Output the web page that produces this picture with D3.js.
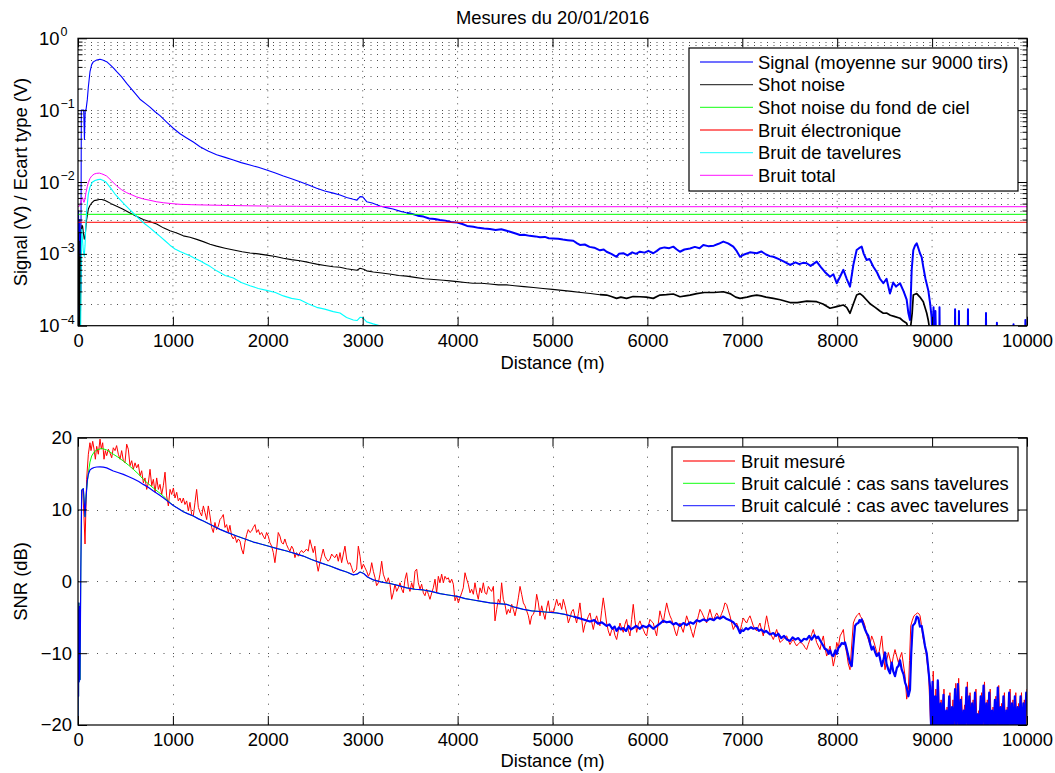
<!DOCTYPE html>
<html><head><meta charset="utf-8">
<script src="https://cdn.jsdelivr.net/npm/d3@7"></script>
<style>
body{margin:0;background:#fff}
svg{display:block}
text{font-family:"Liberation Sans",Arial,Helvetica,sans-serif;fill:#000}
</style>
</head><body>
<svg id="c" width="1055" height="773"></svg>
<script>
// ---------------- DATA ----------------
const title = "Mesures du 20/01/2016";
const xLabel = "Distance (m)";
const yLabelTop = "Signal (V) / Ecart type (V)";
const yLabelBottom = "SNR (dB)";
const xTicks = [0,1000,2000,3000,4000,5000,6000,7000,8000,9000,10000];
const yTopDecades = [-4,-3,-2,-1,0];
const yTopMinorMult = [2,3,4,5,6,7,8,9];
const yBottomTicks = [-20,-10,0,10,20];

const legendTop = ["Signal (moyenne sur 9000 tirs)","Shot noise","Shot noise du fond de ciel","Bruit électronique","Bruit de tavelures","Bruit total"];
const legendBottom = ["Bruit mesuré","Bruit calculé : cas sans tavelures","Bruit calculé : cas avec tavelures"];

// Top panel : [distance (m), volts]
const signalV = [[0,0.0002],[3,0.00003],[6,0.004],[9,0.00005],[12,0.0015],[15,0.00003],[18,0.003],[22,0.0001],[26,0.002],[30,0.0003],[35,0.1],[49,0.1],[60,0.1],[68,0.039],[76,0.1],[84,0.1],[98,0.14],[109,0.21],[126,0.34],[144,0.43],[161,0.47],[197,0.5],[232,0.51],[260,0.5],[302,0.473],[337,0.43],[370,0.39],[408,0.343],[460,0.29],[513,0.236],[580,0.185],[653,0.142],[706,0.125],[759,0.11],[812,0.095],[864,0.084],[934,0.068],[1004,0.056],[1075,0.047],[1145,0.041],[1215,0.036],[1286,0.031],[1370,0.027],[1461,0.024],[1550,0.022],[1637,0.0202],[1720,0.0186],[1812,0.0172],[1900,0.016],[1988,0.0147],[2080,0.0133],[2164,0.0121],[2250,0.0111],[2339,0.0101],[2430,0.0091],[2515,0.0082],[2600,0.0075],[2690,0.007],[2761,0.0066],[2830,0.0061],[2901,0.00574],[2940,0.0056],[2972,0.00625],[3000,0.0062],[3042,0.00532],[3100,0.0051],[3182,0.00463],[3250,0.0044],[3320,0.0042],[3400,0.0039],[3463,0.00374],[3520,0.0036],[3580,0.0034],[3640,0.0033],[3700,0.0031],[3760,0.00305],[3814,0.00296],[3870,0.0029],[3930,0.00278],[3997,0.00272],[4050,0.0026],[4100,0.00245],[4166,0.00239],[4220,0.0023],[4280,0.00225],[4340,0.00222],[4400,0.00215],[4460,0.0022],[4517,0.0021],[4570,0.002],[4620,0.0019],[4657,0.00183],[4700,0.00185],[4760,0.00178],[4820,0.00175],[4868,0.0017],[4920,0.00172],[4960,0.00165],[5008,0.00164],[5060,0.00162],[5110,0.00158],[5160,0.00155],[5219,0.00152],[5260,0.0014],[5289,0.00133],[5340,0.00135],[5390,0.00125],[5440,0.00122],[5500,0.00112],[5540,0.00115],[5570,0.00107],[5620,0.001],[5675,0.00091],[5700,0.001],[5746,0.00102],[5790,0.00095],[5840,0.00105],[5880,0.001],[5921,0.00107],[5970,0.00104],[6010,0.0011],[6062,0.00102],[6100,0.0011],[6132,0.00119],[6180,0.00123],[6230,0.0012],[6273,0.00126],[6310,0.00115],[6343,0.00107],[6390,0.00115],[6449,0.00119],[6500,0.00125],[6550,0.0012],[6589,0.00133],[6640,0.00128],[6700,0.0013],[6750,0.00138],[6800,0.00148],[6850,0.0014],[6905,0.00126],[6940,0.0011],[6976,0.00091],[7020,0.00098],[7080,0.00105],[7152,0.00102],[7200,0.00108],[7250,0.00098],[7290,0.00093],[7327,0.00091],[7380,0.00085],[7440,0.00078],[7503,0.0007],[7560,0.00076],[7600,0.00072],[7640,0.00075],[7678,0.00074],[7720,0.00068],[7784,0.00078],[7830,0.00065],[7870,0.00056],[7924,0.00048],[7960,0.00052],[7995,0.00039],[8030,0.00048],[8065,0.0006],[8100,0.00045],[8135,0.00035],[8170,0.0007],[8205,0.00113],[8230,0.0012],[8258,0.00126],[8280,0.001],[8310,0.00082],[8340,0.00085],[8381,0.00066],[8420,0.00055],[8450,0.00045],[8486,0.00039],[8520,0.00045],[8556,0.00028],[8590,0.0004],[8620,0.00035],[8662,0.00039],[8700,0.0003],[8732,0.00023],[8750,0.00015],[8767,0.00012],[8785,0.0006],[8802,0.00113],[8820,0.0013],[8838,0.0014],[8855,0.0012],[8872,0.00102],[8890,0.0009],[8907,0.00066],[8930,0.00045],[8960,0.00031],[8980,0.0002],[8995,0.00013],[9005,0.00005],[9015,0.00018],[9025,0.00004],[9035,0.00016],[9045,0.00004],[9076,0.00004],[9078,0.00018],[9082,0.00004],[9240,0.00004],[9242,0.00017],[9246,0.00004],[9280,0.00004],[9283,0.00016],[9286,0.00004],[9375,0.00004],[9378,0.00017],[9381,0.00004],[9565,0.00004],[9568,0.00015],[9571,0.00004],[9680,0.00004],[9683,0.00011],[9686,0.00004],[9856,0.00004],[9858,0.000105],[9862,0.00004],[9980,0.00004],[9983,0.00012],[9990,0.00004],[10000,0.00004]];

const shotNoiseV = [[0,0.0002],[4,0.002],[8,0.0001],[12,0.0015],[16,0.00005],[20,0.0009],[25,0.0001],[30,0.0006],[35,0.0021],[42,0.0025],[49,0.0024],[56,0.002],[66,0.0016],[74,0.0017],[84,0.0024],[91,0.003],[109,0.0042],[126,0.0047],[144,0.0051],[170,0.0055],[197,0.0056],[225,0.0057],[250,0.0057],[275,0.0056],[302,0.0054],[350,0.005],[408,0.0046],[470,0.0042],[548,0.0037],[620,0.0033],[688,0.003],[760,0.0028],[829,0.0026],[900,0.0023],[969,0.0021],[1040,0.00195],[1110,0.00178],[1180,0.0017],[1251,0.00159],[1320,0.00148],[1391,0.00136],[1460,0.00128],[1550,0.0012],[1640,0.00113],[1730,0.00107],[1812,0.00103],[1900,0.001],[1988,0.00096],[2080,0.00092],[2164,0.00087],[2250,0.00083],[2339,0.0008],[2430,0.00076],[2515,0.00072],[2600,0.00069],[2690,0.00066],[2761,0.00065],[2830,0.00062],[2901,0.0006],[2940,0.00059],[2972,0.00063],[3010,0.00061],[3042,0.00058],[3112,0.00056],[3200,0.00054],[3300,0.00052],[3380,0.0005],[3463,0.00049],[3550,0.00047],[3650,0.00045],[3750,0.00044],[3850,0.00043],[3920,0.00042],[3997,0.00041],[4080,0.0004],[4160,0.00039],[4250,0.00039],[4340,0.00038],[4430,0.00037],[4517,0.00037],[4600,0.00036],[4700,0.00035],[4800,0.00034],[4900,0.00033],[5000,0.00032],[5100,0.00031],[5200,0.0003],[5300,0.00029],[5400,0.00028],[5500,0.00027],[5570,0.000267],[5620,0.000255],[5675,0.00024],[5720,0.00025],[5780,0.00024],[5850,0.000255],[5921,0.000253],[5990,0.00025],[6062,0.00024],[6132,0.000267],[6200,0.00027],[6273,0.000276],[6343,0.000253],[6400,0.00026],[6449,0.000267],[6520,0.00028],[6600,0.00029],[6700,0.00029],[6800,0.000297],[6870,0.00028],[6930,0.00025],[6976,0.00024],[7050,0.00025],[7100,0.00026],[7152,0.000267],[7200,0.00026],[7250,0.00025],[7327,0.00024],[7400,0.00023],[7503,0.00021],[7580,0.00021],[7680,0.00022],[7784,0.000216],[7850,0.0002],[7924,0.000175],[7995,0.000184],[8065,0.000194],[8100,0.00018],[8135,0.000149],[8170,0.0002],[8205,0.000267],[8240,0.00028],[8270,0.00026],[8310,0.000228],[8350,0.0002],[8400,0.00018],[8450,0.00016],[8486,0.000149],[8520,0.00015],[8560,0.00014],[8600,0.000135],[8662,0.000127],[8700,0.000115],[8732,0.000108],[8750,0.00009],[8767,0.00008],[8790,0.00015],[8802,0.000267],[8838,0.00028],[8872,0.00025],[8907,0.000216],[8943,0.00015],[8960,0.000118],[8980,0.00008],[9000,0.00003]];

const skyNoiseV = [[0,0.00355],[10000,0.00355]];
const elecNoiseV = [[0,0.00275],[10000,0.00275]];

const speckleV = [[0,0.00002],[25,0.00003],[33,0.0006],[39,0.0022],[47,0.0016],[56,0.0011],[66,0.00093],[74,0.0013],[84,0.0028],[91,0.0040],[109,0.0068],[126,0.0085],[150,0.0099],[179,0.0105],[210,0.0108],[235,0.0109],[260,0.0106],[290,0.0101],[337,0.0085],[390,0.0068],[443,0.0057],[495,0.0048],[548,0.0041],[600,0.0035],[653,0.003],[706,0.0026],[759,0.0023],[812,0.002],[864,0.00175],[917,0.00152],[969,0.00132],[1022,0.00117],[1075,0.00108],[1130,0.001],[1180,0.00094],[1233,0.00086],[1286,0.0008],[1340,0.00073],[1391,0.00067],[1461,0.00058],[1550,0.0005],[1637,0.00046],[1720,0.0004],[1812,0.00036],[1900,0.00033],[1988,0.00031],[2080,0.00029],[2164,0.00026],[2250,0.00024],[2339,0.00023],[2430,0.0002],[2515,0.00018],[2600,0.00017],[2690,0.000157],[2761,0.00015],[2830,0.00013],[2901,0.00012],[2940,0.000118],[2972,0.000131],[3000,0.00013],[3042,0.000113],[3110,0.000106],[3182,0.0001],[3250,0.00009]];

const totalNoiseV = [[0,0.0045],[20,0.0047],[35,0.0055],[42,0.0061],[49,0.006],[56,0.0055],[63,0.0052],[74,0.0058],[84,0.0071],[98,0.0087],[109,0.0098],[126,0.0112],[144,0.0121],[170,0.0129],[197,0.0132],[225,0.0133],[250,0.013],[275,0.0126],[302,0.0121],[350,0.0105],[408,0.0088],[460,0.0078],[513,0.0071],[570,0.0066],[618,0.0062],[690,0.0058],[759,0.00556],[830,0.0053],[899,0.00515],[990,0.005],[1075,0.00489],[1200,0.00483],[1391,0.00477],[1600,0.00471],[1800,0.00466],[2000,0.00462],[2300,0.00459],[2600,0.00457],[3000,0.00455],[3500,0.00454],[4500,0.00453],[6000,0.00453],[8000,0.00453],[10000,0.00453]];

// Bottom panel : [distance (m), SNR dB]
const snrMeasured = [[50,12.8],[63,9],[74,5.2],[91,14.2],[109,17.7],[126,19.3],[137,18.2],[155,19.5],[169,18.4],[183,17.0],[197,18.8],[214,17.7],[232,19.8],[246,18.4],[260,19.3],[274,17.0],[288,18.2],[302,17.5],[320,18.4],[337,17.9],[355,17.2],[372,18.6],[390,18.2],[407,18.9],[425,17.7],[443,17.0],[460,18.2],[478,16.8],[495,16.5],[513,19.1],[530,18.4],[548,16.1],[566,16.8],[583,15.6],[601,16.5],[618,15.8],[636,16.3],[654,14.7],[671,15.4],[689,13.7],[706,14.4],[724,12.8],[741,13.7],[759,15.6],[777,13.3],[794,14.2],[812,12.4],[829,14.4],[847,12.8],[864,13.5],[882,12.1],[899,13.3],[917,15.2],[934,11.9],[952,10.5],[970,12.8],[987,12.1],[1005,13.0],[1022,11.6],[1040,12.4],[1057,11.2],[1075,11.6],[1092,10.9],[1110,11.6],[1127,10.7],[1145,11.2],[1163,9.8],[1180,11.0],[1198,9.3],[1215,9.1],[1233,11.0],[1250,12.8],[1268,10.3],[1286,9.6],[1303,9.1],[1321,10.5],[1338,9.6],[1356,8.6],[1373,10.5],[1391,9.1],[1408,7.5],[1426,6.8],[1443,8.2],[1461,7.2],[1479,7.7],[1496,8.6],[1514,8.9],[1531,9.3],[1549,7.5],[1566,7.9],[1584,6.8],[1601,7.8],[1619,6.3],[1636,5.9],[1654,6.3],[1672,5.4],[1689,5.9],[1707,5.6],[1724,4.5],[1742,3.8],[1759,5.4],[1777,6.5],[1794,7.2],[1812,6.8],[1829,7.0],[1847,7.5],[1865,7.9],[1882,6.8],[1900,7.2],[1917,6.5],[1935,6.8],[1952,6.3],[1970,5.9],[1987,6.8],[2005,6.3],[2022,5.4],[2040,4.9],[2058,4.0],[2075,2.6],[2093,4.5],[2110,6.8],[2128,6.3],[2145,5.4],[2163,5.2],[2180,5.9],[2198,5.1],[2215,4.6],[2233,4.2],[2251,4.9],[2268,4.5],[2286,3.3],[2303,4.0],[2321,3.5],[2338,4.0],[2356,4.3],[2373,4.0],[2391,4.2],[2408,4.5],[2426,4.2],[2444,5.8],[2461,4.9],[2479,4.0],[2496,4.9],[2514,2.6],[2531,1.4],[2549,2.6],[2566,3.5],[2584,4.5],[2601,3.5],[2619,3.1],[2636,2.8],[2655,3.1],[2673,3.8],[2690,3.5],[2708,3.3],[2726,3.8],[2743,2.8],[2761,4.0],[2778,2.6],[2796,3.8],[2813,4.9],[2831,3.1],[2848,2.4],[2866,2.6],[2884,1.9],[2901,1.2],[2919,1.4],[2936,1.7],[2954,4.9],[2972,3.5],[2989,1.7],[3007,2.4],[3024,1.9],[3042,1.4],[3060,0.7],[3077,1.2],[3095,2.6],[3112,1.4],[3130,0.5],[3147,-0.6],[3165,-0.2],[3182,1.0],[3200,2.8],[3217,1.0],[3235,0.3],[3252,-0.2],[3270,0.5],[3288,-0.4],[3305,-2.5],[3323,-1.6],[3340,-0.4],[3358,-1.4],[3375,-0.9],[3393,-0.2],[3411,-1.1],[3428,-1.6],[3446,0.3],[3463,1.2],[3481,-0.7],[3498,-1.4],[3516,-0.2],[3534,-1.1],[3551,1.4],[3569,1.7],[3586,-0.2],[3604,-1.1],[3621,-0.4],[3639,-1.6],[3656,-2.0],[3674,-1.1],[3692,-1.8],[3709,-2.5],[3727,-1.6],[3744,-0.9],[3762,0.3],[3779,-1.6],[3797,0.7],[3814,-0.2],[3832,1.0],[3850,-0.2],[3867,0.7],[3885,0.3],[3902,0.5],[3920,-0.2],[3938,0.3],[3955,-0.4],[3973,-2.7],[3990,-2.0],[4008,-3.0],[4025,-2.3],[4043,-1.6],[4060,-0.9],[4078,1.2],[4096,0.3],[4113,-0.4],[4131,-1.6],[4148,-1.1],[4166,-1.8],[4183,-0.2],[4201,-1.6],[4218,-2.5],[4236,-0.9],[4253,-1.6],[4271,-0.2],[4289,-1.6],[4306,-1.8],[4324,-0.7],[4341,-1.1],[4359,-1.4],[4377,-0.7],[4394,-5.5],[4412,-3.9],[4429,-2.5],[4447,-3.0],[4464,-0.2],[4482,-2.5],[4499,-3.2],[4517,-4.6],[4534,-3.9],[4552,-4.4],[4570,-3.2],[4587,-3.9],[4605,-4.8],[4622,-3.7],[4640,-2.3],[4658,-0.7],[4675,-1.8],[4693,-3.0],[4710,-3.4],[4728,-4.1],[4746,-4.8],[4763,-6.0],[4781,-4.8],[4798,-4.6],[4816,-3.9],[4833,-1.8],[4851,-3.0],[4868,-4.8],[4886,-3.4],[4903,-4.4],[4921,-5.3],[4939,-3.7],[4956,-2.7],[4974,-4.4],[4991,-4.1],[5009,-4.4],[5027,-3.4],[5044,-2.5],[5062,-3.4],[5079,-3.0],[5097,-3.9],[5114,-2.5],[5132,-3.4],[5149,-4.4],[5167,-5.8],[5184,-5.1],[5202,-4.2],[5219,-3.9],[5237,-4.9],[5254,-5.8],[5272,-4.5],[5289,-3.0],[5307,-5.2],[5325,-7.1],[5342,-6.0],[5360,-5.5],[5377,-4.9],[5395,-4.4],[5412,-5.6],[5430,-6.7],[5448,-5.5],[5465,-4.8],[5483,-5.7],[5500,-6.2],[5518,-4.1],[5535,-2.3],[5553,-4.0],[5570,-5.8],[5588,-6.9],[5606,-7.6],[5623,-6.8],[5641,-6.5],[5658,-7.5],[5676,-8.1],[5693,-6.9],[5711,-5.8],[5728,-6.5],[5746,-7.1],[5763,-6.0],[5781,-5.3],[5799,-6.8],[5816,-7.6],[5834,-5.3],[5851,-3.2],[5869,-5.5],[5887,-7.1],[5904,-6.0],[5922,-5.5],[5939,-6.2],[5957,-6.7],[5975,-7.3],[5992,-7.6],[6010,-6.2],[6027,-5.3],[6045,-5.6],[6062,-5.8],[6080,-6.8],[6097,-7.6],[6115,-5.8],[6132,-4.1],[6150,-5.0],[6167,-5.8],[6185,-4.3],[6203,-3.0],[6220,-4.0],[6238,-4.8],[6255,-5.3],[6273,-6.0],[6290,-6.9],[6308,-7.6],[6326,-6.6],[6343,-5.8],[6361,-6.5],[6378,-7.1],[6396,-5.9],[6413,-4.8],[6431,-5.5],[6449,-6.2],[6466,-7.0],[6484,-7.8],[6501,-6.7],[6519,-5.8],[6537,-4.8],[6554,-3.9],[6572,-4.3],[6589,-4.8],[6607,-5.3],[6624,-5.8],[6642,-4.7],[6659,-3.9],[6677,-4.8],[6694,-5.5],[6712,-4.9],[6730,-4.4],[6747,-4.8],[6765,-5.1],[6782,-4.5],[6800,-3.9],[6817,-3.0],[6835,-3.2],[6852,-4.0],[6870,-4.8],[6888,-5.8],[6905,-6.7],[6923,-6.2],[6940,-5.8],[6958,-6.4],[6975,-7.1],[6993,-6.0],[7011,-5.1],[7028,-5.5],[7046,-5.8],[7064,-5.2],[7081,-4.8],[7099,-5.5],[7116,-6.2],[7134,-6.6],[7151,-6.9],[7169,-6.3],[7186,-5.8],[7204,-6.8],[7221,-7.6],[7239,-6.1],[7256,-4.8],[7274,-6.0],[7292,-7.1],[7309,-7.6],[7327,-8.1],[7345,-7.4],[7362,-6.7],[7380,-7.6],[7397,-8.5],[7415,-8.3],[7432,-8.1],[7450,-7.8],[7467,-7.6],[7485,-8.2],[7502,-8.8],[7520,-8.4],[7537,-8.1],[7555,-8.6],[7573,-9.0],[7590,-8.7],[7608,-8.5],[7625,-8.6],[7643,-8.8],[7660,-9.2],[7678,-9.5],[7695,-8.8],[7713,-8.1],[7730,-7.4],[7748,-6.7],[7766,-7.6],[7783,-8.5],[7801,-9.0],[7819,-9.5],[7836,-8.4],[7854,-7.6],[7871,-9.2],[7889,-10.4],[7906,-9.8],[7924,-9.0],[7942,-10.2],[7959,-11.8],[7977,-10.6],[7995,-8.5],[8012,-9.2],[8030,-7.6],[8047,-7.2],[8065,-6.7],[8082,-8.8],[8100,-10.0],[8117,-11.5],[8135,-12.3],[8152,-9.0],[8170,-5.8],[8188,-5.2],[8205,-4.8],[8220,-4.6],[8233,-4.4],[8245,-4.9],[8258,-5.1],[8275,-5.5],[8293,-6.2],[8310,-7.4],[8328,-8.1],[8345,-8.8],[8363,-7.6],[8381,-8.2],[8399,-9.0],[8416,-9.8],[8434,-10.4],[8452,-9.0],[8469,-7.6],[8486,-10.0],[8504,-12.3],[8521,-11.0],[8539,-9.9],[8556,-10.8],[8574,-11.8],[8591,-10.5],[8609,-9.5],[8627,-10.4],[8645,-11.3],[8662,-10.6],[8680,-9.9],[8697,-11.5],[8715,-13.2],[8732,-16.4],[8750,-15.0],[8762,-11.0],[8775,-6.2],[8792,-5.4],[8809,-4.8],[8827,-4.6],[8845,-4.4],[8860,-4.5],[8873,-4.8],[8887,-6.0],[8901,-7.6],[8918,-8.7],[8936,-9.9],[8950,-11.5],[8964,-13.2],[8985,-20.2],[9000,-20.5],[9012,-12.5],[9025,-21],[9040,-15],[9052,-21],[9068,-14],[9080,-21],[9095,-16.5],[9110,-21],[9125,-15],[9140,-21],[9158,-17.5],[9172,-21],[9188,-15.5],[9200,-21],[9220,-16.5],[9235,-21],[9250,-14.2],[9262,-21],[9280,-13.5],[9295,-21],[9312,-16],[9325,-21],[9342,-17.2],[9355,-21],[9372,-14],[9385,-21],[9400,-15.5],[9415,-21],[9432,-16.5],[9445,-21],[9462,-15],[9475,-21],[9492,-18],[9505,-21],[9522,-15.5],[9535,-21],[9552,-14],[9565,-21],[9582,-16.5],[9595,-21],[9612,-15],[9625,-21],[9642,-17.5],[9655,-21],[9672,-16],[9685,-21],[9702,-14.5],[9715,-21],[9732,-17],[9745,-21],[9762,-15.5],[9775,-21],[9792,-17.5],[9805,-21],[9822,-15],[9835,-21],[9852,-16.5],[9865,-21],[9882,-15.5],[9895,-21],[9912,-17],[9925,-21],[9942,-15.5],[9955,-21],[9972,-16.5],[9985,-21],[10000,-15]];

const snrWithSpeckle = [[0,-20],[3,-4],[6,-16],[9,-3],[12,-14],[16,-3.5],[21,-13.7],[30,2],[39,12.7],[56,12.9],[66,11],[74,9.0],[84,11.5],[98,14.1],[109,14.9],[126,15.5],[144,15.7],[170,15.85],[197,15.92],[232,15.95],[267,15.9],[302,15.8],[372,15.36],[420,15.15],[478,14.9],[530,14.6],[583,14.29],[640,13.9],[688,13.5],[740,13.1],[794,12.58],[850,12.1],[899,11.64],[950,11.1],[1004,10.55],[1060,10.1],[1110,9.7],[1160,9.4],[1215,9.1],[1270,8.7],[1321,8.4],[1410,7.8],[1496,7.24],[1585,6.75],[1672,6.31],[1760,5.9],[1848,5.47],[1925,5.2],[2002,4.92],[2100,4.55],[2199,4.22],[2290,3.85],[2374,3.52],[2460,3.05],[2550,2.6],[2656,2.13],[2720,1.8],[2761,1.6],[2830,1.3],[2901,0.9],[2940,1.0],[2972,1.3],[3010,1.1],[3050,0.6],[3112,0.2],[3200,-0.1],[3288,-0.3],[3380,-0.6],[3463,-0.9],[3550,-1.1],[3639,-1.2],[3720,-1.4],[3814,-1.7],[3900,-1.9],[3997,-2.1],[4080,-2.4],[4166,-2.6],[4250,-2.8],[4342,-3.0],[4430,-3.1],[4517,-3.2],[4600,-3.6],[4693,-3.9],[4780,-4.1],[4868,-4.2],[4950,-4.3],[5040,-4.4],[5130,-4.6],[5219,-4.9],[5300,-5.2],[5395,-5.6],[5440,-5.4],[5480,-5.9],[5520,-5.7],[5570,-6.2],[5600,-6.0],[5630,-6.6],[5655,-6.3],[5675,-6.9],[5700,-6.4],[5720,-6.7],[5746,-6.5],[5775,-6.9],[5800,-6.2],[5825,-6.7],[5850,-6.5],[5880,-6.2],[5921,-6.6],[5950,-6.2],[5990,-6.4],[6020,-6.1],[6062,-6.6],[6100,-6.2],[6132,-5.9],[6165,-5.5],[6203,-5.7],[6240,-5.6],[6273,-6.0],[6300,-5.8],[6343,-6.2],[6380,-5.8],[6413,-6.1],[6450,-5.7],[6484,-5.9],[6520,-5.4],[6550,-5.6],[6590,-5.3],[6625,-5.5],[6660,-5.2],[6700,-5.4],[6735,-5.0],[6765,-5.2],[6800,-4.9],[6830,-5.2],[6850,-5.3],[6880,-5.5],[6905,-5.7],[6930,-6.1],[6950,-6.4],[6976,-7.2],[6995,-6.8],[7011,-6.9],[7040,-6.5],[7060,-6.7],[7090,-6.4],[7116,-6.6],[7152,-6.5],[7175,-6.9],[7200,-6.7],[7230,-7.1],[7250,-6.9],[7292,-7.4],[7327,-7.2],[7355,-7.6],[7380,-7.3],[7410,-7.9],[7440,-7.6],[7470,-8.1],[7503,-8.3],[7530,-7.8],[7560,-8.1],[7590,-7.9],[7620,-8.4],[7650,-8.0],[7678,-8.1],[7705,-7.6],[7730,-8.1],[7760,-7.5],[7784,-7.9],[7800,-7.7],[7819,-8.2],[7850,-8.9],[7870,-9.4],[7889,-9.5],[7910,-10.1],[7924,-9.6],[7945,-10.3],[7959,-10.4],[7980,-9.6],[7995,-10.1],[8012,-9.3],[8030,-9.0],[8048,-8.6],[8065,-8.7],[8082,-8.5],[8100,-9.4],[8117,-10.4],[8135,-11.4],[8153,-11.8],[8170,-9.0],[8188,-6.2],[8205,-5.9],[8223,-5.8],[8235,-5.4],[8247,-5.6],[8258,-5.3],[8275,-6.0],[8293,-6.7],[8310,-7.2],[8328,-7.6],[8345,-8.6],[8363,-9.5],[8381,-9.1],[8398,-9.8],[8416,-10.4],[8440,-10.0],[8455,-11.0],[8469,-11.8],[8486,-11.0],[8504,-9.9],[8520,-11.5],[8539,-12.3],[8556,-12.8],[8574,-11.3],[8590,-12.5],[8609,-13.2],[8630,-12.0],[8645,-11.8],[8662,-11.0],[8680,-12.3],[8700,-13.0],[8715,-14.1],[8732,-14.7],[8750,-16.0],[8767,-15.1],[8780,-10],[8795,-6.2],[8820,-5.8],[8838,-4.9],[8855,-5.1],[8872,-6.3],[8890,-6.2],[8907,-7.5],[8925,-9.0],[8943,-10.0],[8961,-12.3],[8978,-14.7],[8990,-20.5],[9005,-14],[9018,-21],[9032,-16],[9046,-21],[9060,-13.8],[9074,-21],[9090,-17],[9104,-21],[9120,-15.8],[9134,-21],[9150,-18],[9164,-21],[9180,-16],[9194,-21],[9210,-17.5],[9224,-21],[9242,-15],[9256,-21],[9272,-14.3],[9286,-21],[9302,-16.5],[9316,-21],[9332,-18],[9346,-21],[9362,-14.8],[9376,-21],[9392,-16],[9406,-21],[9422,-17],[9436,-21],[9452,-15.5],[9466,-21],[9482,-18.5],[9496,-21],[9512,-16],[9526,-21],[9542,-14.5],[9556,-21],[9572,-17],[9586,-21],[9602,-15.5],[9616,-21],[9632,-18],[9646,-21],[9662,-16.5],[9676,-21],[9692,-14.8],[9706,-21],[9722,-17.5],[9736,-21],[9752,-16],[9766,-21],[9782,-18],[9796,-21],[9812,-15.5],[9826,-21],[9842,-17],[9856,-21],[9872,-16],[9886,-21],[9902,-17.5],[9916,-21],[9932,-16],[9946,-21],[9962,-17],[9976,-21],[9992,-15.5],[10000,-17]];

// "sans tavelures" differs only near the start; elsewhere it coincides with the curve above
const snrNoSpeckleStart = [[0,-20],[3,-4],[6,-16],[9,-3],[12,-14],[16,-3.5],[21,-13.7],[30,2],[39,12.7],[56,12.95],[66,11],[74,9.0],[84,11.8],[91,12.8],[109,15.1],[126,16.6],[144,17.45],[170,18.0],[197,18.3],[250,18.5],[302,18.3],[372,17.7],[420,17.3],[478,16.75],[530,16.2],[583,15.6],[640,14.9],[688,14.2],[740,13.6],[794,13.0],[850,12.4],[899,11.9],[950,11.2],[1004,10.55],[1060,10.1],[1110,9.7],[1160,9.4],[1215,9.1]];
const snrNoSpeckle = snrNoSpeckleStart.concat(snrWithSpeckle.filter(p => p[0] > 1215));

// ---------------- DRAW ----------------
const svg = d3.select('#c');
const FS = 18.4;
const P1 = {l:78, r:1027, t:38.3, b:325.7};
const P2 = {l:78, r:1027, t:437.7, b:725};
const xT = d3.scaleLinear().domain([0,10000]).range([P1.l,P1.r]);
const xB = d3.scaleLinear().domain([0,10000]).range([P2.l,P2.r]);
const yT = d3.scaleLog().domain([1e-4,1]).range([P1.b,P1.t]);
const yB = d3.scaleLinear().domain([-20,20]).range([P2.b,P2.t]);

svg.append('rect').attr('width',1055).attr('height',773).attr('fill','#fff');

const defs = svg.append('defs');
function clip(id,P){
  defs.append('clipPath').attr('id',id).append('rect')
    .attr('x',P.l).attr('y',P.t).attr('width',P.r-P.l).attr('height',P.b-P.t);
}
clip('c1',P1); clip('c2',P2);

const gridStyle = dash => g => g.attr('stroke','#222').attr('stroke-opacity',0.8).attr('stroke-width',1).attr('stroke-dasharray',dash).attr('fill','none');

// --- top grid
const majT = yTopDecades.map(e => Math.pow(10,e));
const minT = [];
yTopDecades.slice(0,-1).forEach(e => yTopMinorMult.forEach(m => minT.push(m*Math.pow(10,e))));
const g1 = svg.append('g').call(gridStyle('1,5.5'));
xTicks.filter(v => v>0 && v<10000).forEach(v => g1.append('line').attr('x1',xT(v)).attr('x2',xT(v)).attr('y1',P1.t).attr('y2',P1.b));
majT.concat(minT).filter(v => v>1e-4 && v<1).forEach(v => g1.append('line').attr('x1',P1.l).attr('x2',P1.r).attr('y1',Math.round(yT(v))+0.5).attr('y2',Math.round(yT(v))+0.5));

// --- bottom grid
const g2 = svg.append('g').call(gridStyle('1,8.5'));
xTicks.filter(v => v>0 && v<10000).forEach(v => g2.append('line').attr('x1',Math.round(xB(v))+0.5).attr('x2',Math.round(xB(v))+0.5).attr('y1',P2.t).attr('y2',P2.b));
yBottomTicks.filter(v => v>-20 && v<20).forEach(v => g2.append('line').attr('x1',P2.l).attr('x2',P2.r).attr('y1',Math.round(yB(v))+0.5).attr('y2',Math.round(yB(v))+0.5));

// --- series
function draw(data,x,y,color,clipId,w){
  svg.append('path').datum(data)
    .attr('clip-path',`url(#${clipId})`)
    .attr('fill','none').attr('stroke',color).attr('stroke-width',w||1)
    .attr('stroke-linejoin','round')
    .attr('d',d3.line().x(d=>x(d[0])).y(d=>y(d[1])));
}
// draws a series thin where it is smooth and thicker where the measured trace is noisy
function drawSplit(data,x,y,color,clipId,wThin,wNoisy,from){
  draw(data.filter(p=>p[0]<=from),x,y,color,clipId,wThin);
  draw(data.filter(p=>p[0]>=from),x,y,color,clipId,wNoisy);
}
const colTop = ['#0000ff','#000000','#00ff00','#ff0000','#00ffff','#ff00ff'];
drawSplit(signalV,xT,yT,colTop[0],'c1',1.1,2.0,3463);
drawSplit(shotNoiseV,xT,yT,colTop[1],'c1',1.1,1.7,5500);
draw(skyNoiseV,xT,yT,colTop[2],'c1',1);
draw(elecNoiseV,xT,yT,colTop[3],'c1',1);
draw(speckleV,xT,yT,colTop[4],'c1',1.1);
draw(totalNoiseV,xT,yT,colTop[5],'c1',1);

const colBot = ['#ff0000','#00ff00','#0000ff'];
draw(snrMeasured,xB,yB,colBot[0],'c2',1);
draw(snrNoSpeckle,xB,yB,colBot[1],'c2',1);
drawSplit(snrWithSpeckle,xB,yB,colBot[2],'c2',1.2,2.2,5219);

// --- axes
function styleAxis(g){ g.select('.domain').remove(); g.selectAll('text').attr('font-size',FS).attr('font-family','"Liberation Sans",Arial,sans-serif').attr('fill','#000'); g.selectAll('line').attr('stroke','#000'); }
function xAxes(P,x){
  svg.append('g').attr('transform',`translate(0,${P.b})`)
    .call(d3.axisBottom(x).tickValues(xTicks).tickSizeInner(-9).tickSizeOuter(0).tickPadding(8).tickFormat(d3.format('d'))).call(styleAxis);
  svg.append('g').attr('transform',`translate(0,${P.t})`)
    .call(d3.axisTop(x).tickValues(xTicks).tickSizeInner(-9).tickSizeOuter(0).tickFormat('')).call(styleAxis);
}
xAxes(P1,xT); xAxes(P2,xB);

// top y (log)
[[P1.l,'L'],[P1.r,'R']].forEach(([px,side]) => {
  const mk = side==='L'? d3.axisLeft : d3.axisRight;
  svg.append('g').attr('transform',`translate(${px},0)`).call(mk(yT).tickValues(majT).tickSizeInner(-9).tickSizeOuter(0).tickFormat('')).call(styleAxis);
  svg.append('g').attr('transform',`translate(${px},0)`).call(mk(yT).tickValues(minT).tickSizeInner(-4.5).tickSizeOuter(0).tickFormat('')).call(styleAxis);
});
const lab = svg.append('g');
yTopDecades.forEach(e => {
  const yy = yT(Math.pow(10,e));
  lab.append('text').attr('x',59.5).attr('y',yy+6.5).attr('text-anchor','end').attr('font-size',FS).text('10');
  lab.append('text').attr('x',60.5).attr('y',yy-2).attr('font-size',12.5).text(e===0?'0':'\u2212'+(-e));
});

// bottom y
svg.append('g').attr('transform',`translate(${P2.l},0)`)
  .call(d3.axisLeft(yB).tickValues(yBottomTicks).tickSizeInner(-9).tickSizeOuter(0).tickPadding(6)).call(styleAxis);
svg.append('g').attr('transform',`translate(${P2.r},0)`)
  .call(d3.axisRight(yB).tickValues(yBottomTicks).tickSizeInner(-9).tickSizeOuter(0).tickFormat('')).call(styleAxis);

// boxes
[P1,P2].forEach(P => svg.append('rect').attr('x',P.l).attr('y',P.t).attr('width',P.r-P.l).attr('height',P.b-P.t)
  .attr('fill','none').attr('stroke','#000').attr('stroke-width',1.2));

// labels
svg.append('text').attr('x',(P1.l+P1.r)/2).attr('y',24).attr('text-anchor','middle').attr('font-size',FS).text(title);
svg.append('text').attr('x',(P1.l+P1.r)/2).attr('y',P1.b+43).attr('text-anchor','middle').attr('font-size',FS).text(xLabel);
svg.append('text').attr('x',(P2.l+P2.r)/2).attr('y',P2.b+42).attr('text-anchor','middle').attr('font-size',FS).text(xLabel);
svg.append('text').attr('transform',`translate(27,${(P1.t+P1.b)/2}) rotate(-90)`).attr('text-anchor','middle').attr('font-size',FS).text(yLabelTop);
svg.append('text').attr('transform',`translate(27,${(P2.t+P2.b)/2}) rotate(-90)`).attr('text-anchor','middle').attr('font-size',FS).text(yLabelBottom);

// legends
function legend(x0,x1,y0,rowH,names,cols,lx0,lx1,tx){
  const n = names.length;
  const g = svg.append('g');
  g.append('rect').attr('x',x0).attr('y',y0).attr('width',x1-x0).attr('height',rowH*n+7)
    .attr('fill','#fff').attr('stroke','#000').attr('stroke-width',1.2);
  names.forEach((nm,i) => {
    const cy = y0 + 14 + i*rowH;
    g.append('line').attr('x1',lx0).attr('x2',lx1).attr('y1',cy).attr('y2',cy).attr('stroke',cols[i]).attr('stroke-width',1.3).attr('stroke-opacity',0.75);
    g.append('text').attr('x',tx).attr('y',cy+6.5).attr('font-size',FS).text(nm);
  });
}
legend(689,1018,48,22.67,legendTop,colTop,700,753,758);
legend(672,1018,447,22.3,legendBottom,colBot,683,735,741);
</script>
</body></html>
